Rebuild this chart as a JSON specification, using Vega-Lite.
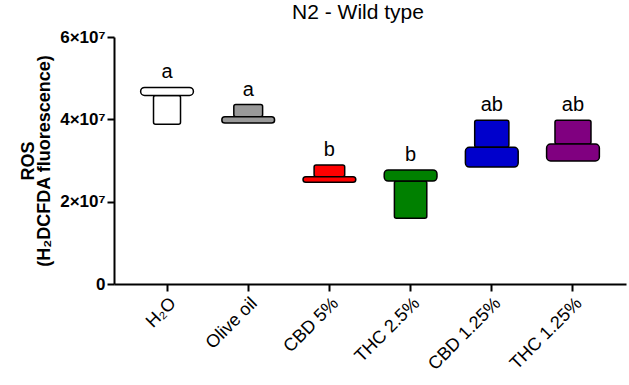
{
  "$schema": "https://vega.github.io/schema/vega-lite/v6.json",
  "autosize": {"type": "none"},
  "padding": {"left": 114, "top": 37, "right": 3, "bottom": 101},
  "width": 512,
  "height": 247,
  "background": "white",
  "config": {
    "view": {"stroke": null},
    "font": "Liberation Sans"
  },
  "title": {
    "text": "N2 - Wild type",
    "font": "Liberation Sans",
    "fontSize": 21,
    "fontWeight": "normal",
    "color": "black",
    "anchor": "middle",
    "dx": -12,
    "offset": 5
  },
  "data": {
    "values": [
      {"group": "H₂O", "box_end": 47750000, "median": 45800000, "notch_end": 38800000, "top": 47750000, "letter": "a"},
      {"group": "Olive oil", "box_end": 39100000, "median": 40600000, "notch_end": 43600000, "top": 43600000, "letter": "a"},
      {"group": "CBD 5%", "box_end": 24700000, "median": 26050000, "notch_end": 28900000, "top": 28900000, "letter": "b"},
      {"group": "THC 2.5%", "box_end": 27700000, "median": 25000000, "notch_end": 16000000, "top": 27700000, "letter": "b"},
      {"group": "CBD 1.25%", "box_end": 28400000, "median": 33200000, "notch_end": 39800000, "top": 39800000, "letter": "ab"},
      {"group": "THC 1.25%", "box_end": 29900000, "median": 34000000, "notch_end": 39800000, "top": 39800000, "letter": "ab"}
    ]
  },
  "encoding": {
    "x": {
      "field": "group",
      "type": "nominal",
      "sort": null,
      "scale": {"paddingInner": 0, "paddingOuter": 0.153},
      "axis": {
        "title": null,
        "labelAngle": -45,
        "labelFont": "Liberation Sans",
        "labelFontSize": 18,
        "labelColor": "black",
        "labelPadding": 3,
        "domainColor": "black",
        "domainWidth": 2,
        "tickColor": "black",
        "tickWidth": 2,
        "tickSize": 7
      }
    }
  },
  "layer": [
    {
      "mark": {"type": "bar", "stroke": "black", "strokeWidth": 1.5, "cornerRadius": 2},
      "encoding": {
        "y": {
          "field": "notch_end",
          "type": "quantitative",
          "scale": {"domain": [0, 60000000], "nice": false},
          "axis": {
            "values": [0, 20000000, 40000000, 60000000],
            "labelExpr": "datum.value == 0 ? '0' : (datum.value / 10000000) + '×10⁷'",
            "labelFont": "Liberation Sans",
            "labelFontWeight": "bold",
            "labelFontSize": 17,
            "labelColor": "black",
            "labelPadding": 2,
            "grid": false,
            "domainColor": "black",
            "domainWidth": 2,
            "tickColor": "black",
            "tickWidth": 2,
            "tickSize": 7,
            "title": ["ROS", "(H₂DCFDA fluorescence)"],
            "titleFont": "Liberation Sans",
            "titleFontSize": 18,
            "titleFontWeight": "bold",
            "titleColor": "black",
            "titlePadding": 6,
            "titleLineHeight": 16
          }
        },
        "y2": {"field": "median"},
        "size": {
          "field": "group",
          "type": "nominal",
          "scale": {
            "domain": ["H₂O", "Olive oil", "CBD 5%", "THC 2.5%", "CBD 1.25%", "THC 1.25%"],
            "range": [27, 36, 36, 31, 44, 42]
          },
          "legend": null
        },
        "fill": {
          "field": "group",
          "type": "nominal",
          "sort": null,
          "scale": {"range": ["#ffffff", "#999999", "#ff0000", "#008000", "#0000cc", "#800080"]},
          "legend": null
        }
      }
    },
    {
      "mark": {"type": "bar", "stroke": "black", "strokeWidth": 1.5, "cornerRadius": 4, "width": {"band": 0.65}},
      "encoding": {
        "y": {"field": "box_end", "type": "quantitative"},
        "y2": {"field": "median"},
        "fill": {"field": "group", "type": "nominal", "sort": null, "legend": null}
      }
    },
    {
      "mark": {"type": "text", "font": "Liberation Sans", "fontSize": 20, "baseline": "bottom", "dy": -5, "color": "black"},
      "encoding": {
        "y": {"field": "top", "type": "quantitative"},
        "text": {"field": "letter"}
      }
    }
  ]
}
